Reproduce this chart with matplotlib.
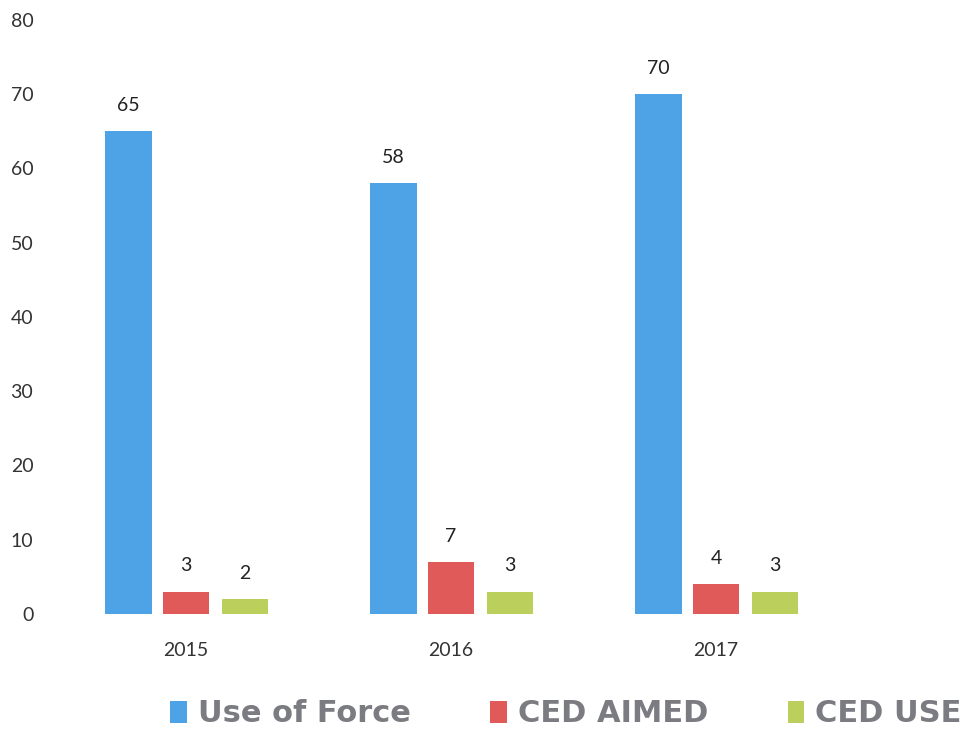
import matplotlib
matplotlib.use("Agg")
import matplotlib.pyplot as plt
import numpy as np
from matplotlib.patches import Patch

years = ["2015", "2016", "2017"]
series_names = ["Use of Force", "CED AIMED", "CED USE"]
use_of_force = [65, 58, 70]
ced_aimed = [3, 7, 4]
ced_use = [2, 3, 3]
colors = ["#4DA3E6", "#E05A5A", "#BACF5C"]
y_ticks = [0, 10, 20, 30, 40, 50, 60, 70, 80]

W, H = 969, 730
fig = plt.figure(figsize=(W / 100, H / 100), dpi=100)
ax = fig.add_axes([50 / W, (H - 614) / H, (940 - 50) / W, (614 - 20) / H])

x = np.arange(len(years))
bw = 0.174
offs = [-0.217, 0.0, 0.222]
for vals, off, c in zip([use_of_force, ced_aimed, ced_use], offs, colors):
    bars = ax.bar(x + off, vals, width=bw, color=c, edgecolor="none")
    for b, v in zip(bars, vals):
        ax.annotate(str(v), (b.get_x() + b.get_width() / 2, v),
                    xytext=(0, 12.5), textcoords="offset points",
                    ha="center", va="bottom", fontsize=14,
                    family="Lato", color="#222222")

ax.set_xlim((50 - 186) / 265, (940 - 186) / 265)
ax.set_ylim(0, 80)
ax.set_yticks(y_ticks)
ax.set_yticklabels([str(t) for t in y_ticks], family="Lato", fontsize=14, color="#333333")
ax.set_xticks(x)
ax.set_xticklabels(years, family="Lato", fontsize=14, color="#333333")
ax.tick_params(axis="both", length=0)
ax.tick_params(axis="y", pad=12)
ax.tick_params(axis="x", pad=20)
for s in ax.spines.values():
    s.set_visible(False)

handles = [Patch(facecolor=c, edgecolor="none") for c in colors]
leg = fig.legend(handles, series_names, loc="center", bbox_to_anchor=(566 / W, (H - 714) / H),
                 ncol=3, frameon=False, handlelength=0.55, handleheight=0.7,
                 handletextpad=0.35, columnspacing=2.6,
                 prop={"family": "DejaVu Sans", "weight": "bold", "size": 22})
for t in leg.get_texts():
    t.set_color("#7B7B82")

fig.savefig("out.png", dpi=100)
